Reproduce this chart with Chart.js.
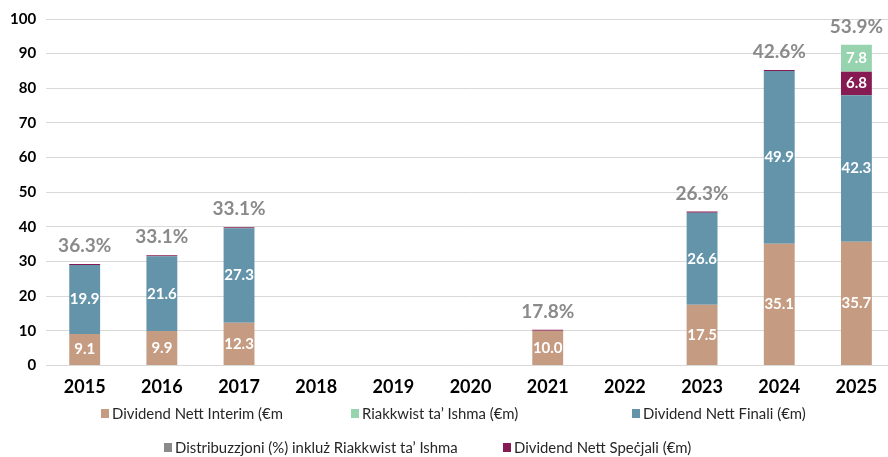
<!DOCTYPE html>
<html>
<head>
<meta charset="utf-8">
<script src="https://cdn.jsdelivr.net/npm/chart.js@4.4.1/dist/chart.umd.min.js"></script>
<style>
    html, body { margin: 0; padding: 0; background: #ffffff; overflow: hidden; }
    body { width: 888px; height: 457px; position: relative; }
    #wrap { position: absolute; left: 0; top: 0; width: 897px; height: 409px; }
    #legend { position: absolute; left: 0; top: 0; width: 888px; height: 457px; pointer-events: none; }
    .item { position: absolute; display: flex; align-items: center; font-family: Lato, sans-serif; font-size: 14.9px; color: #262626; white-space: nowrap; transform: translateY(-50%); }
    .box { width: 8px; height: 9px; margin-right: 3px; }
</style>
</head>
<body>
<div id="wrap"><canvas id="payoutChart"></canvas></div>
<div id="legend"></div>
<script>
const years = ['2015', '2016', '2017', '2018', '2019', '2020', '2021', '2022', '2023', '2024', '2025'];
const interimValues = [9.1, 9.9, 12.3, null, null, null, 10.0, null, 17.5, 35.1, 35.7];
const finalValues = [19.9, 21.6, 27.3, null, null, null, null, null, 26.6, 49.9, 42.3];
const specialValues = [0.3, 0.3, 0.3, null, null, null, 0.3, null, 0.3, 0.3, 6.8];
const scripValues = [null, null, null, null, null, null, null, null, null, null, 7.8];
const payoutPct = [36.3, 33.1, 33.1, null, null, null, 17.8, null, 26.3, 42.6, 53.9];
const yMax = 100;
const yStep = 10;

const colors = {
    interim: '#c59c82',
    scrip: '#96d3ae',
    finali: '#6394aa',
    pct: '#8a8a8a',
    special: '#861a52'
};

// labels inside the bars and payout % above each stack
const labelPlugin = {
    id: 'barLabels',
    afterDatasetsDraw(chart) {
        const ctx = chart.ctx;
        ctx.save();
        ctx.textAlign = 'center';
        ctx.textBaseline = 'middle';

        ctx.font = 'bold 15px Lato, sans-serif';
        ctx.fillStyle = '#ffffff';
        chart.data.datasets.forEach((ds, di) => {
            if (ds.type === 'line') return;
            const meta = chart.getDatasetMeta(di);
            meta.data.forEach((bar, i) => {
                const v = ds.data[i];
                if (v == null || v < 1) return;
                ctx.fillText(v.toFixed(1), bar.x, (bar.y + bar.base) / 2);
            });
        });

        const x = chart.scales.x;
        const y = chart.scales.y;
        ctx.font = 'bold 19px Lato, sans-serif';
        ctx.fillStyle = colors.pct;
        payoutPct.forEach((p, i) => {
            if (p == null) return;
            let total = 0;
            chart.data.datasets.forEach(ds => {
                if (ds.type !== 'line' && ds.data[i] != null) total += ds.data[i];
            });
            ctx.fillText(p.toFixed(1) + '%', x.getPixelForValue(i), y.getPixelForValue(total) - 18);
        });
        ctx.restore();
    }
};

const chart = new Chart(document.getElementById('payoutChart'), {
    type: 'bar',
    data: {
        labels: years,
        datasets: [
            { label: 'Dividend Nett Interim (€m', data: interimValues, backgroundColor: colors.interim, order: 1 },
            { label: 'Riakkwist ta’ Ishma (€m)', data: scripValues, backgroundColor: colors.scrip, order: 4 },
            { label: 'Dividend Nett Finali (€m)', data: finalValues, backgroundColor: colors.finali, order: 2 },
            {
                type: 'line',
                label: 'Distribuzzjoni (%) inkluż Riakkwist ta’ Ishma',
                data: payoutPct,
                yAxisID: 'pct',
                showLine: false,
                pointRadius: 0,
                backgroundColor: colors.pct,
                borderColor: colors.pct,
                order: 5
            },
            { label: 'Dividend Nett Speċjali (€m)', data: specialValues, backgroundColor: colors.special, order: 3 }
        ]
    },
    options: {
        responsive: true,
        maintainAspectRatio: false,
        animation: false,
        layout: { padding: { left: 0, top: 16, right: 2, bottom: 0 } },
        datasets: {
            bar: { barPercentage: 0.4, categoryPercentage: 1.0 }
        },
        scales: {
            x: {
                stacked: true,
                grid: { display: false, drawTicks: false },
                border: { display: false },
                ticks: {
                    color: '#000000',
                    padding: 11,
                    font: { family: 'Lato', size: 18, weight: 'bold' }
                }
            },
            y: {
                stacked: true,
                min: 0,
                max: yMax,
                grid: { color: '#d9d9d9', lineWidth: 1, drawTicks: false },
                border: { display: false },
                ticks: {
                    stepSize: yStep,
                    color: '#000000',
                    padding: 10,
                    font: { family: 'Lato', size: 15, weight: 'bold' }
                }
            },
            pct: { display: false, min: 0, max: 100 }
        },
        plugins: {
            legend: { display: false },
            tooltip: { enabled: false }
        }
    },
    plugins: [labelPlugin]
});

// legend in the reference's two rows
const legendSpots = [[101, 413], [351, 413], [632, 413], [164, 447], [503, 447]];
const legendEl = document.getElementById('legend');
chart.data.datasets.forEach((ds, i) => {
    const item = document.createElement('div');
    item.className = 'item';
    item.style.left = legendSpots[i][0] + 'px';
    item.style.top = legendSpots[i][1] + 'px';
    const box = document.createElement('span');
    box.className = 'box';
    box.style.background = ds.backgroundColor;
    const txt = document.createElement('span');
    txt.textContent = ds.label;
    item.appendChild(box);
    item.appendChild(txt);
    legendEl.appendChild(item);
});
</script>
</body>
</html>
